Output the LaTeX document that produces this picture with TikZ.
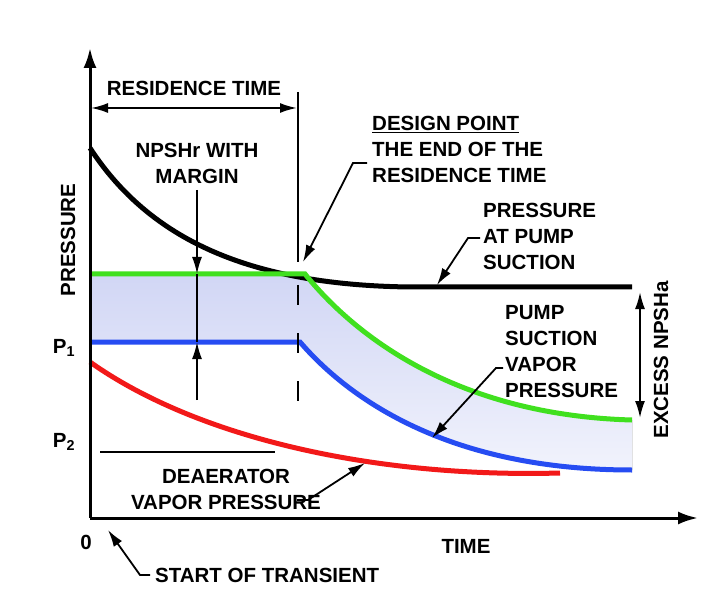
\documentclass[tikz,border=0pt]{standalone}
\usepackage{fontspec}
\setmainfont{Liberation Sans}
\usetikzlibrary{arrows.meta,positioning}
\definecolor{grn}{rgb}{0.25,0.88,0.12}
\definecolor{blu}{rgb}{0.15,0.3,0.95}
\definecolor{rd}{rgb}{0.95,0.1,0.1}
\definecolor{haze}{rgb}{0.82,0.84,0.96}
\tikzset{
  lbl/.style={font=\fontsize{20.5}{26}\selectfont\bfseries, inner sep=0pt, align=left},
  curve/.style={line width=5pt},
  ax/.style={line width=3pt, -{Latex[length=20pt,width=13pt]}},
  lead/.style={line width=1.8pt, -{Latex[length=17pt,width=10pt]}},
  dim/.style={line width=2pt, {Latex[length=17pt,width=10pt]}-{Latex[length=17pt,width=10pt]}}
}
\begin{document}
\begin{tikzpicture}[x=1pt,y=-1pt]
\useasboundingbox (0,0) rectangle (720,612);
% shaded band
\fill[top color=haze, bottom color=haze!30] (90,274) -- (305,274) .. controls (350,330) and (450,415) .. (632,420)
  -- (632,470) .. controls (450,470) and (350,400) .. (300,342) -- (90,342) -- cycle;
% curves
\draw[curve] (90,148) .. controls (150,240) and (250,285) .. (410,287) -- (632,287);
\draw[curve,grn] (90,274) -- (305,274) .. controls (350,330) and (450,415) .. (632,420);
\draw[curve,blu] (90,342) -- (300,342) .. controls (350,400) and (450,470) .. (632,470);
\draw[curve,rd] (90,362) .. controls (200,440) and (380,478) .. (560,473);
% axes
\coordinate (o) at (90,518);
\draw[ax] (o) -- (90,48);
\draw[ax] (o) -- (698,518);
% residence time
\draw[line width=2pt] (298,92) -- (298,262);
\draw[line width=2pt, dash pattern=on 20pt off 28pt] (298,285) -- (298,420);
\draw[dim] (91,108) -- (297,108);
\node[lbl] (res) at (194,88) {RESIDENCE TIME};
% NPSHr
\node[lbl, align=center] (npshr) at (197,163) {NPSHr WITH\\MARGIN};
\draw[lead] (197,190) -- (197,274);
\draw[line width=1.8pt] (197,274) -- (197,342);
\draw[lead] (197,400) -- (197,342);
% design point
\node[lbl, anchor=north west] (dp) at (372,116) {\underline{DESIGN POINT}\\THE END OF THE\\RESIDENCE TIME};
\draw[lead] (367,163) -- (353,163) -- (303,262);
% pressure at suction
\node[lbl, anchor=north west] (pps) at (483,203) {PRESSURE\\AT PUMP\\SUCTION};
\draw[lead] (480,238) -- (468,238) -- (437,285);
% pump vapor
\node[lbl, anchor=north west] (pvp) at (505,305) {PUMP\\SUCTION\\VAPOR\\PRESSURE};
\draw[lead] (503,368) -- (496,368) -- (432,438);
% excess
\draw[dim] (640,292) -- (640,418);
\node[lbl, rotate=90] (exc) at (661,360) {EXCESS NPSHa};
% axis labels
\node[lbl, rotate=90] (pr) at (68,240) {PRESSURE};
\node[lbl] (p1) at (64,348) {P\textsubscript{1}};
\node[lbl] (p2) at (64,442) {P\textsubscript{2}};
\draw[line width=2pt] (100,452) -- (275,452);
\node[lbl] (zero) at (86,542) {0};
\node[lbl] (time) at (466,546) {TIME};
% deaerator
\node[lbl, align=center] (dea) at (226,489) {DEAERATOR\\VAPOR PRESSURE};
\draw[lead] (297,500) -- (308,500) -- (365,463);
% start
\node[lbl, anchor=west] (st) at (155,575) {START OF TRANSIENT};
\draw[lead] (150,575) -- (140,575) -- (108,530);
\end{tikzpicture}
\end{document}
